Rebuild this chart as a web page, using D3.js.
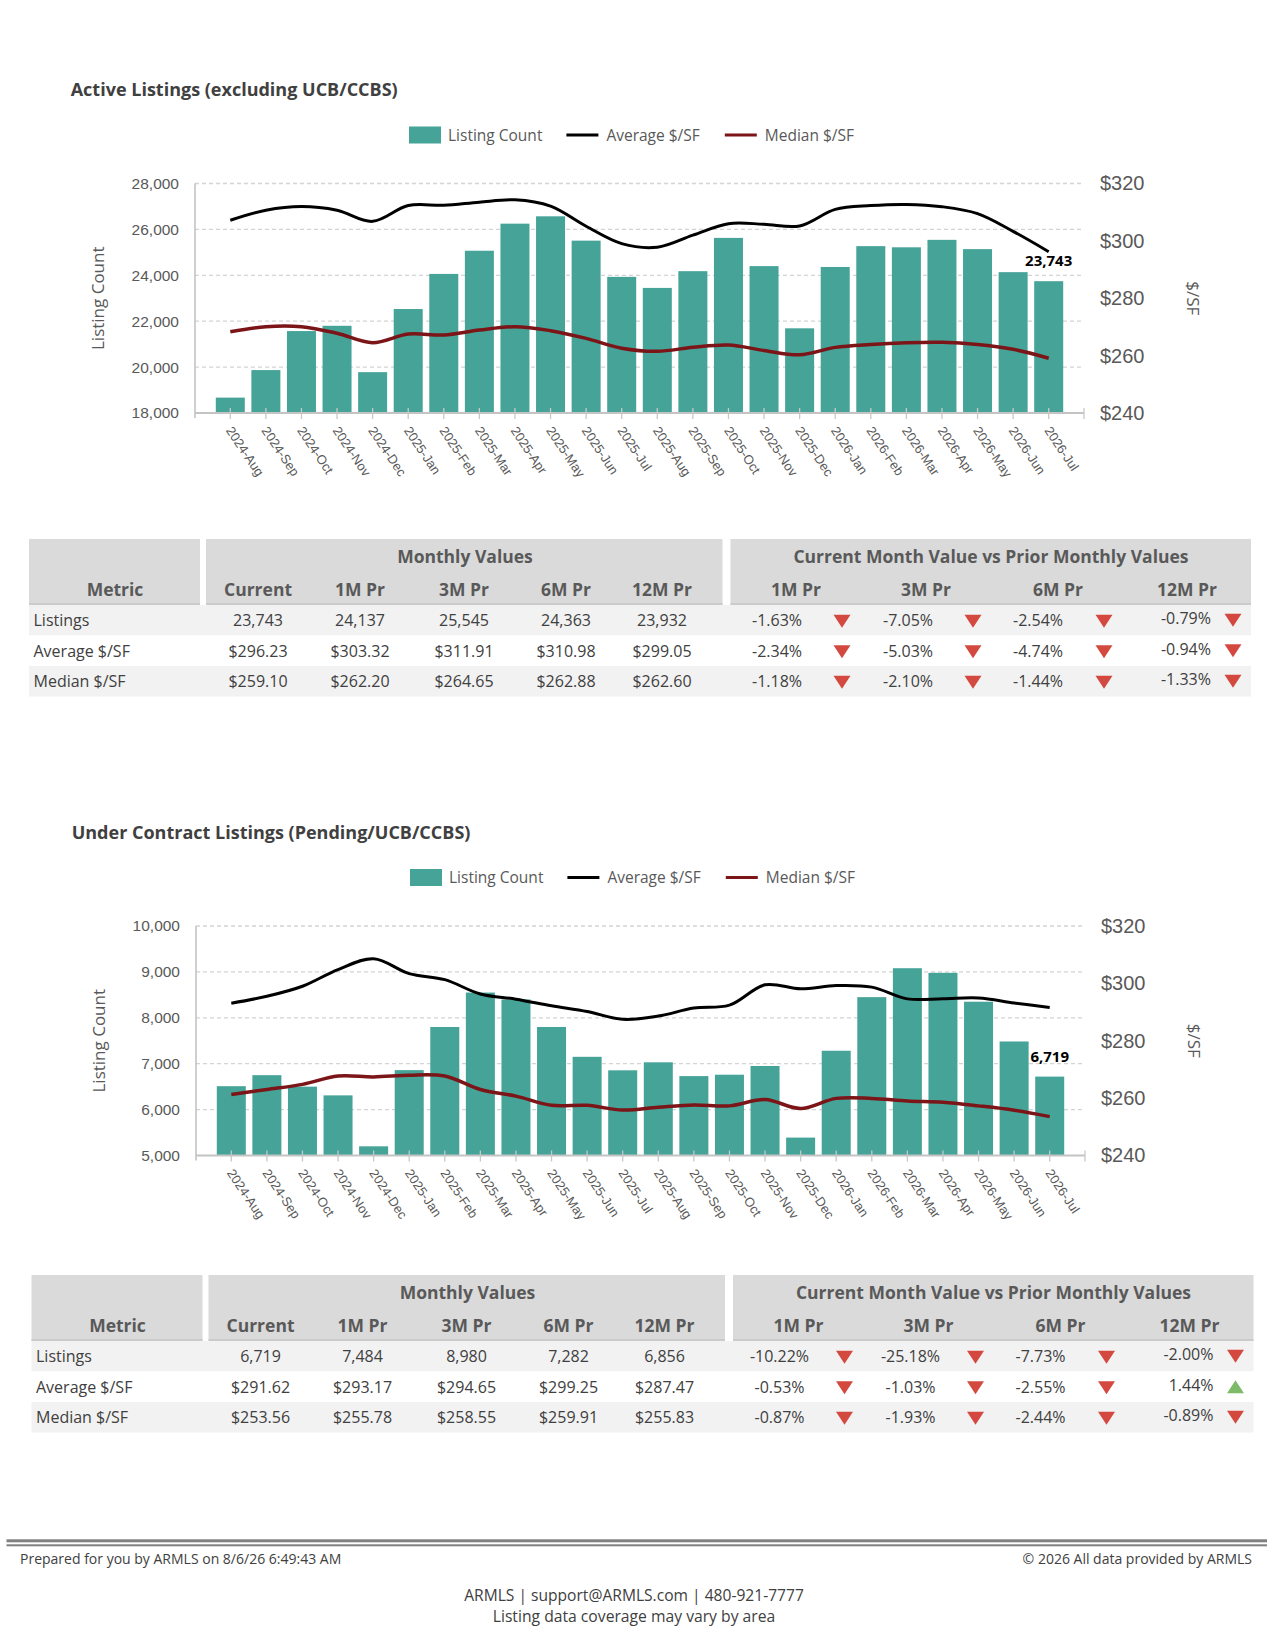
<!DOCTYPE html>
<html>
<head>
<meta charset="utf-8">
<script src="https://cdn.jsdelivr.net/npm/d3@7"></script>
<style>
html,body{margin:0;padding:0;background:#fff;}
svg{display:block;font-family:"Open Sans","Noto Sans",sans-serif;}
</style>
</head>
<body>
<svg id="page" width="1275" height="1650"></svg>
<script>
// ---- data ----
const months=["2024-Aug","2024-Sep","2024-Oct","2024-Nov","2024-Dec",
  "2025-Jan","2025-Feb","2025-Mar","2025-Apr","2025-May","2025-Jun","2025-Jul",
  "2025-Aug","2025-Sep","2025-Oct","2025-Nov","2025-Dec",
  "2026-Jan","2026-Feb","2026-Mar","2026-Apr","2026-May","2026-Jun","2026-Jul"];

const activeCount=[18670,19870,21570,21800,19780,22530,24060,25070,26250,26570,25510,23932,
  23450,24180,25630,24400,21690,24363,25270,25220,25545,25140,24137,23743];
const activeAvg=[307.2,310.7,312.0,310.7,306.8,312.3,312.4,313.5,314.3,312.1,305.1,299.05,
  297.8,302.0,306.0,305.8,305.2,310.98,312.3,312.7,311.91,309.5,303.32,296.23];
const activeMed=[268.3,270.1,270.1,267.8,264.5,267.5,267.2,268.9,270.1,268.7,266.0,262.60,
  261.5,262.9,263.7,261.8,260.3,262.88,263.9,264.5,264.65,263.9,262.20,259.10];

const pendCount=[6510,6750,6500,6310,5200,6860,7800,8550,8400,7800,7150,6856,
  7030,6730,6760,6950,5390,7282,8450,9080,8980,8350,7484,6719];
const pendAvg=[293.1,295.5,299.0,304.8,308.6,303.4,301.3,296.3,294.5,292.2,290.2,287.47,
  288.6,291.4,292.4,299.5,298.1,299.25,298.7,294.6,294.65,294.9,293.17,291.62];
const pendMed=[261.3,263.0,264.8,267.7,267.4,268.0,267.7,263.0,260.7,257.5,257.5,255.83,
  256.8,257.6,257.3,259.5,256.4,259.91,259.9,259.0,258.55,257.3,255.78,253.56];

const activeTicks=[18000,20000,22000,24000,26000,28000];
const pendTicks=[5000,6000,7000,8000,9000,10000];
const priceTicks=[240,260,280,300,320];

const metricNames=["Listings","Average $/SF","Median $/SF"];
const monthlyCols=["Current","1M Pr","3M Pr","6M Pr","12M Pr"];
const changeCols=["1M Pr","3M Pr","6M Pr","12M Pr"];

const activeMonthly=[["23,743","24,137","25,545","24,363","23,932"],
  ["$296.23","$303.32","$311.91","$310.98","$299.05"],
  ["$259.10","$262.20","$264.65","$262.88","$262.60"]];
const activeChange=[[-1.63,-7.05,-2.54,-0.79],[-2.34,-5.03,-4.74,-0.94],[-1.18,-2.10,-1.44,-1.33]];
const pendMonthly=[["6,719","7,484","8,980","7,282","6,856"],
  ["$291.62","$293.17","$294.65","$299.25","$287.47"],
  ["$253.56","$255.78","$258.55","$259.91","$255.83"]];
const pendChange=[[-10.22,-25.18,-7.73,-2.00],[-0.53,-1.03,-2.55,1.44],[-0.87,-1.93,-2.44,-0.89]];

// ---- styles ----
const BAR="#45a398", AVG="#000000", MED="#7b1518";
const GREY_TXT="#595959", DARK_TXT="#404040";

const svg=d3.select("#page");
svg.append("rect").attr("width",1275).attr("height",1650).attr("fill","#fff");

function drawChart(cfg){
  const g=svg.append("g").attr("transform","translate("+cfg.dx+","+cfg.dy+")");
  const left=195,right=1084,top=183.5,bottom=413;

  g.append("text").attr("x",70.7).attr("y",96)
    .attr("font-size",18).attr("font-weight",700).attr("fill",DARK_TXT)
    .text(cfg.title);

  //legend, laid out left to right
  let lx=409;
  const ly=135;
  const leg=g.append("g").attr("font-size",15.5).attr("fill",GREY_TXT);
  leg.append("rect").attr("x",lx).attr("y",ly-8.5).attr("width",32).attr("height",17).attr("fill",BAR);
  lx+=39;
  let t=leg.append("text").attr("x",lx).attr("y",ly+5.5).text("Listing Count");
  lx+=t.node().getComputedTextLength()+24;
  [[AVG,"Average $/SF"],[MED,"Median $/SF"]].forEach(function(it){
    leg.append("line").attr("x1",lx).attr("x2",lx+32).attr("y1",ly).attr("y2",ly)
      .attr("stroke",it[0]).attr("stroke-width",3);
    lx+=40;
    t=leg.append("text").attr("x",lx).attr("y",ly+5.5).text(it[1]);
    lx+=t.node().getComputedTextLength()+25;
  });

  const x=d3.scaleBand().domain(months).range([left+17.5,right-17.5])
    .paddingInner(0.185).paddingOuter(0.0925);
  const bw=x.bandwidth();
  const y=d3.scaleLinear().domain([cfg.ticks[0],cfg.ticks[cfg.ticks.length-1]]).range([bottom,top]);
  const y2=d3.scaleLinear().domain([priceTicks[0],priceTicks[priceTicks.length-1]]).range([bottom,top]);

  //gridlines
  g.append("g").selectAll("line").data(cfg.ticks.slice(1)).join("line")
    .attr("x1",left).attr("x2",right).attr("y1",d=>y(d)).attr("y2",d=>y(d))
    .attr("stroke","#d4d4d4").attr("stroke-width",1.3).attr("stroke-dasharray","4,3");

  //bars
  g.append("g").selectAll("rect").data(cfg.counts).join("rect")
    .attr("x",(d,i)=>x(months[i])).attr("width",bw)
    .attr("y",d=>y(d)).attr("height",d=>bottom-y(d)).attr("fill",BAR);

  //left axis
  const ya=g.append("g").attr("transform","translate("+left+",0)")
    .call(d3.axisLeft(y).tickValues(cfg.ticks).tickSize(0).tickPadding(16).tickFormat(d3.format(",")));
  ya.select(".domain").remove();
  ya.selectAll("text").attr("font-size",15.5).attr("fill",GREY_TXT).attr("font-family",null);
  g.append("line").attr("x1",left).attr("x2",left).attr("y1",top).attr("y2",bottom+5)
    .attr("stroke","#bfbfbf").attr("stroke-width",1.5);

  //right axis
  const ra=g.append("g").attr("transform","translate("+right+",0)")
    .call(d3.axisRight(y2).tickValues(priceTicks).tickSize(0).tickPadding(16).tickFormat(d=>"$"+d));
  ra.select(".domain").remove();
  ra.selectAll("text").attr("font-size",20).attr("fill",GREY_TXT).attr("font-family",null);

  //bottom axis
  const xa=g.append("g").attr("transform","translate(0,"+bottom+")")
    .call(d3.axisBottom(x).tickSizeInner(6).tickSizeOuter(0));
  xa.select(".domain").remove();
  xa.selectAll(".tick line").attr("y1",-5).attr("stroke","#c8c8c8").attr("stroke-width",1.3);
  xa.selectAll("text").attr("font-size",13).attr("fill",GREY_TXT).attr("font-family",null)
    .attr("text-anchor","start").attr("y",0).attr("x",0).attr("dy","0.35em")
    .attr("transform","translate(-1,15) rotate(56)");
  g.append("line").attr("x1",left).attr("x2",right).attr("y1",bottom).attr("y2",bottom)
    .attr("stroke","#c4c4c4").attr("stroke-width",2);
  g.append("line").attr("x1",right).attr("x2",right).attr("y1",bottom-5).attr("y2",bottom+6)
    .attr("stroke","#c8c8c8").attr("stroke-width",1.3);

  //axis titles
  g.append("text").attr("transform","translate(98,"+((top+bottom)/2)+") rotate(-90)")
    .attr("text-anchor","middle").attr("dy","0.35em")
    .attr("font-size",17).attr("fill",GREY_TXT).text("Listing Count");
  g.append("text").attr("transform","translate(1193,"+((top+bottom)/2)+") rotate(90)")
    .attr("text-anchor","middle").attr("dy","0.35em")
    .attr("font-size",17).attr("fill",GREY_TXT).text("$/SF");

  //price lines
  const line=d3.line().x((d,i)=>x(months[i])+bw/2).y(d=>y2(d)).curve(d3.curveCatmullRom.alpha(0.5));
  g.append("path").datum(cfg.avg).attr("d",line).attr("fill","none")
    .attr("stroke",AVG).attr("stroke-width",3);
  g.append("path").datum(cfg.med).attr("d",line).attr("fill","none")
    .attr("stroke",MED).attr("stroke-width",3.5);

  //label on the last bar
  const last=cfg.counts.length-1;
  g.append("text").attr("x",x(months[last])+bw/2).attr("y",y(cfg.counts[last])-20)
    .attr("dy","0.35em").attr("text-anchor","middle")
    .attr("font-size",15).attr("font-weight",700).attr("fill","#000")
    .text(d3.format(",")(cfg.counts[last]));
}

function drawTable(cfg){
  const g=svg.append("g").attr("transform","translate("+cfg.dx+","+cfg.top+")");
  const hh=66, rh=30.5;
  const blocks=[[29,200],[206,722.5],[730.5,1251]];
  blocks.forEach(function(b){
    g.append("rect").attr("x",b[0]).attr("y",0).attr("width",b[1]-b[0]).attr("height",hh).attr("fill","#dadada");
    g.append("rect").attr("x",b[0]).attr("y",hh-2).attr("width",b[1]-b[0]).attr("height",2).attr("fill","#cbcbcb");
  });
  metricNames.forEach(function(n,i){
    g.append("rect").attr("x",29).attr("y",hh+i*rh).attr("width",1222).attr("height",rh)
      .attr("fill",i%2===0?"#f2f2f2":"#ffffff");
  });

  const hdr=g.append("g").attr("font-size",17.5).attr("font-weight",700).attr("fill",GREY_TXT)
    .attr("text-anchor","middle");
  hdr.append("text").attr("x",465).attr("y",24).text("Monthly Values");
  hdr.append("text").attr("x",991).attr("y",24).text("Current Month Value vs Prior Monthly Values");
  hdr.append("text").attr("x",115).attr("y",57).text("Metric");

  const monX=[258,360,464,566,662];
  const chgX=[777,908,1038];
  const hdrChgX=[796,926,1058,1187];
  const triX=[842,973,1104,1233];
  monthlyCols.forEach((c,i)=>hdr.append("text").attr("x",monX[i]).attr("y",57).text(c));
  changeCols.forEach((c,i)=>hdr.append("text").attr("x",hdrChgX[i]).attr("y",57).text(c));

  const body=g.append("g").attr("font-size",16).attr("fill",DARK_TXT);
  metricNames.forEach(function(n,r){
    const cy=hh+rh*r+rh/2;
    body.append("text").attr("x",33.5).attr("y",cy+6).text(n);
    cfg.monthly[r].forEach(function(v,i){
      body.append("text").attr("x",monX[i]).attr("y",cy+6).attr("text-anchor","middle").text(v);
    });
    cfg.change[r].forEach(function(v,i){
      const s=v.toFixed(2)+"%";
      if(i<3){
        body.append("text").attr("x",chgX[i]).attr("y",cy+6).attr("text-anchor","middle").text(s);
      } else {
        body.append("text").attr("x",1211).attr("y",cy+4).attr("text-anchor","end").text(s);
      }
      const tx=triX[i], ty=cy+(i<3?1:0);
      const pts=v<0
        ? [[tx-8.5,ty-6.5],[tx+8.5,ty-6.5],[tx,ty+6.5]]
        : [[tx-8.5,ty+6.5],[tx+8.5,ty+6.5],[tx,ty-6.5]];
      body.append("path").attr("d",d3.line()(pts)+"Z").attr("fill",v<0?"#d4493f":"#7dbb68");
    });
  });
}

drawChart({dx:0,dy:0,title:"Active Listings (excluding UCB/CCBS)",
  counts:activeCount,avg:activeAvg,med:activeMed,ticks:activeTicks});
drawTable({dx:0,top:539,monthly:activeMonthly,change:activeChange});

drawChart({dx:1,dy:742.5,title:"Under Contract Listings (Pending/UCB/CCBS)",
  counts:pendCount,avg:pendAvg,med:pendMed,ticks:pendTicks});
drawTable({dx:2.5,top:1275,monthly:pendMonthly,change:pendChange});

//footer
const foot=svg.append("g").attr("fill",DARK_TXT);
foot.append("rect").attr("x",6.5).attr("y",1539.3).attr("width",1260.5).attr("height",3).attr("fill","#808080");
foot.append("rect").attr("x",6.5).attr("y",1544.3).attr("width",1260.5).attr("height",2).attr("fill","#808080");
foot.append("text").attr("x",20).attr("y",1563.5).attr("font-size",14)
  .text("Prepared for you by ARMLS on 8/6/26 6:49:43 AM");
foot.append("text").attr("x",1252).attr("y",1563.5).attr("font-size",14).attr("text-anchor","end")
  .text("\u00a9 2026 All data provided by ARMLS");
foot.append("text").attr("x",634).attr("y",1601).attr("font-size",15.6).attr("text-anchor","middle")
  .text("ARMLS | support@ARMLS.com | 480-921-7777");
foot.append("text").attr("x",634).attr("y",1622).attr("font-size",15.7).attr("text-anchor","middle")
  .text("Listing data coverage may vary by area");
</script>
</body>
</html>
